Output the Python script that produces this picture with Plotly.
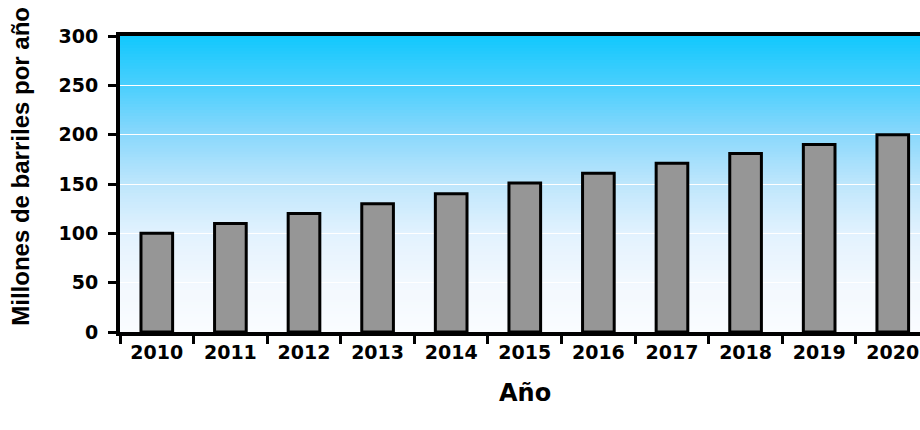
import plotly.graph_objects as go

years = ["2010", "2011", "2012", "2013", "2014", "2015", "2016", "2017", "2018", "2019", "2020"]
values = [100, 110, 120, 130, 140, 151, 161, 171, 181, 190, 200]
y_ticks = [0, 50, 100, 150, 200, 250, 300]

FONT = "Liberation Sans, Arial, sans-serif"
TFONT = "DejaVu Sans, sans-serif"

fig = go.Figure()
fig.add_trace(go.Bar(
    x=years, y=values, width=0.43,
    marker=dict(color="#969696", line=dict(color="black", width=3)),
))

# gradient background (cyan at top -> white at bottom)
stops = [(0.0, (250, 252, 255)), (0.167, (242, 248, 254)), (0.333, (226, 242, 254)),
         (0.5, (190, 230, 252)), (0.667, (138, 216, 252)), (0.833, (74, 207, 253)),
         (1.0, (18, 200, 253))]

def col(t):
    for (t0, c0), (t1, c1) in zip(stops[:-1], stops[1:]):
        if t0 <= t <= t1:
            f = (t - t0) / (t1 - t0)
            return "rgb(%d,%d,%d)" % tuple(round(a + (b - a) * f) for a, b in zip(c0, c1))
    return "rgb(%d,%d,%d)" % stops[-1][1]

N = 100
shapes = []
for i in range(N):
    y0 = i / N
    y1 = (i + 1) / N + 0.004
    shapes.append(dict(type="rect", xref="paper", yref="paper", x0=0, x1=1,
                       y0=y0, y1=min(y1, 1), layer="below",
                       fillcolor=col((i + 0.5) / N), line=dict(width=0)))

fig.update_layout(
    width=920, height=430,
    margin=dict(l=120, r=0, t=36, b=98),
    paper_bgcolor="white", plot_bgcolor="white",
    showlegend=False,
    shapes=shapes,
    font=dict(family=FONT, color="black"),
    xaxis=dict(
        type="category", range=[-0.5, 10.37],
        showline=True, linecolor="black", linewidth=4, mirror=True,
        ticks="outside", tickson="boundaries", ticklen=8, tickwidth=3, tickcolor="black",
        tickfont=dict(family=TFONT, size=19, color="black", weight="bold"),
        ticklabelstandoff=0, showgrid=False,
    ),
    yaxis=dict(
        range=[0, 300], tickvals=y_ticks,
        showline=True, linecolor="black", linewidth=4,
        ticks="outside", ticklen=8, tickwidth=3, tickcolor="black",
        tickfont=dict(family=TFONT, size=19, color="black", weight="bold"),
        ticklabelstandoff=6,
        showgrid=True, gridcolor="white", gridwidth=1, zeroline=False,
    ),
    annotations=[
        dict(text="Millones de barriles por año", xref="paper", yref="paper",
             x=-0.124, y=0.561, textangle=-90, showarrow=False,
             xanchor="center", yanchor="middle",
             font=dict(family=FONT, size=24, color="black", weight="bold")),
        dict(text="Año", xref="paper", yref="paper", x=0.506, y=-0.206,
             showarrow=False, xanchor="center", yanchor="middle",
             font=dict(family=TFONT, size=24, color="black", weight="bold")),
    ],
)

fig.write_html(
    "out.html",
    config={"displayModeBar": False},
    post_script="document.body.style.margin='0';document.body.style.overflow='hidden';",
)
